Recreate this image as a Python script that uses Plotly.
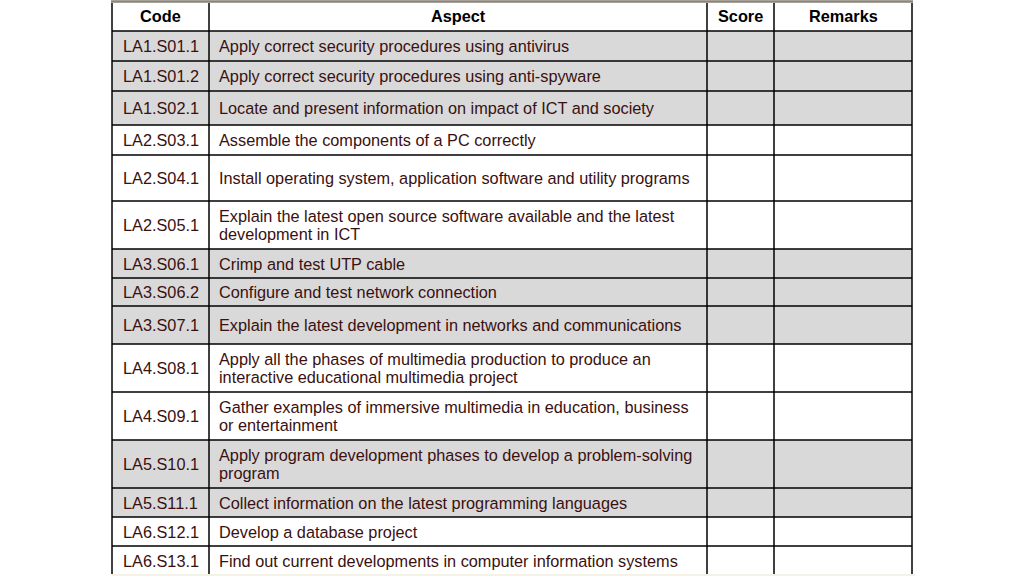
import plotly.graph_objects as go

# table content
headers = ["Code", "Aspect", "Score", "Remarks"]

codes = [
    "LA1.S01.1", "LA1.S01.2", "LA1.S02.1", "LA2.S03.1", "LA2.S04.1",
    "LA2.S05.1", "LA3.S06.1", "LA3.S06.2", "LA3.S07.1", "LA4.S08.1",
    "LA4.S09.1", "LA5.S10.1", "LA5.S11.1", "LA6.S12.1", "LA6.S13.1",
]

aspects = [
    "Apply correct security procedures using antivirus",
    "Apply correct security procedures using anti-spyware",
    "Locate and present information on impact of ICT and society",
    "Assemble the components of a PC correctly",
    "Install operating system, application software and utility programs",
    "Explain the latest open source software available and the latest<br>development in ICT",
    "Crimp and test UTP cable",
    "Configure and test network connection",
    "Explain the latest development in networks and communications",
    "Apply all the phases of multimedia production to produce an<br>interactive educational multimedia project",
    "Gather examples of immersive multimedia in education, business<br>or entertainment",
    "Apply program development phases to develop a problem-solving<br>program",
    "Collect information on the latest programming languages",
    "Develop a database project",
    "Find out current developments in computer information systems",
]

shaded = [True, True, True, False, False, False, True, True, True,
          False, False, True, True, False, False]

# page layout in pixels (header row first)
col_widths = [97, 498, 67, 138]
row_heights = [28, 30, 30, 34, 30, 46, 48, 29, 28, 38, 48, 48, 48, 29, 29, 30]
left, top = 112, 3
line_gap = 18

col_edges = [left]
for w in col_widths:
    col_edges.append(col_edges[-1] + w)
row_edges = [top]
for h in row_heights:
    row_edges.append(row_edges[-1] + h)

text_color = "#3a1010"
font_name = "Liberation Sans, Arial, sans-serif"
fsize = 16.3

shapes = []
# shaded rows
for i, s in enumerate(shaded):
    if s:
        shapes.append(dict(type="rect", xref="x", yref="y",
                           x0=col_edges[0], x1=col_edges[-1],
                           y0=row_edges[i + 1], y1=row_edges[i + 2],
                           fillcolor="#d9d9d9", line=dict(width=0), layer="below"))

# faint strip below the table
shapes.append(dict(type="rect", xref="x", yref="y", x0=col_edges[0], x1=col_edges[-1] + 3,
                   y0=574, y1=577, fillcolor="#f4f2e4", line=dict(width=0)))

# grid lines
for y in row_edges[1:-1]:
    shapes.append(dict(type="line", xref="x", yref="y", x0=col_edges[0], x1=col_edges[-1],
                       y0=y, y1=y, line=dict(color="black", width=1.5)))
for x in col_edges:
    shapes.append(dict(type="line", xref="x", yref="y", x0=x, x1=x,
                       y0=row_edges[0], y1=574, line=dict(color="black", width=1.5)))
# top border
shapes.append(dict(type="line", xref="x", yref="y", x0=col_edges[0] - 1, x1=col_edges[-1] + 1,
                   y0=1.5, y1=1.5, line=dict(color="#8a857a", width=2.5)))

annotations = []
for j, h in enumerate(headers):
    annotations.append(dict(x=(col_edges[j] + col_edges[j + 1]) / 2,
                            y=(row_edges[0] + row_edges[1]) / 2 - 1,
                            xref="x", yref="y", text="<b>" + h + "</b>", showarrow=False,
                            xanchor="center", yanchor="middle",
                            font=dict(family=font_name, size=fsize, color="black")))

for i, (c, a) in enumerate(zip(codes, aspects)):
    yc = (row_edges[i + 1] + row_edges[i + 2]) / 2
    annotations.append(dict(x=(col_edges[0] + col_edges[1]) / 2, y=yc,
                            xref="x", yref="y", text=c, showarrow=False,
                            xanchor="center", yanchor="middle",
                            font=dict(family=font_name, size=fsize, color=text_color)))
    lines = a.split("<br>")
    for k, ln in enumerate(lines):
        yl = yc + (k - (len(lines) - 1) / 2) * line_gap
        annotations.append(dict(x=col_edges[1] + 8, y=yl,
                                xref="x", yref="y", text=ln, showarrow=False,
                                xanchor="left", yanchor="middle",
                                font=dict(family=font_name, size=fsize, color=text_color)))

fig = go.Figure()
fig.update_layout(
    width=1024, height=576,
    margin=dict(l=0, r=0, t=0, b=0),
    paper_bgcolor="white", plot_bgcolor="white",
    showlegend=False,
    shapes=shapes,
    annotations=annotations,
    xaxis=dict(range=[0, 1024], visible=False, fixedrange=True),
    yaxis=dict(range=[576, 0], visible=False, fixedrange=True),
)

# drop the default page margin so the figure sits at the window corner
fig.write_html("out.html", config={"displayModeBar": False},
               post_script="document.body.style.margin='0px';")
